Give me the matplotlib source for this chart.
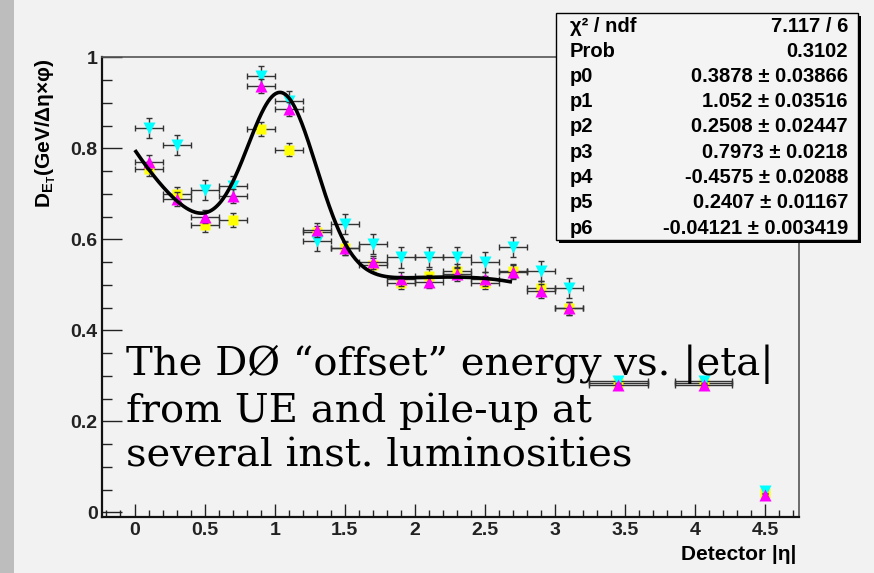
import numpy as np
import matplotlib
matplotlib.use("Agg")
import matplotlib.pyplot as plt
from matplotlib.patches import Rectangle

plt.rcParams['font.family'] = ['Liberation Sans', 'DejaVu Sans']
plt.rcParams['font.weight'] = 'bold'
plt.rcParams['mathtext.fontset'] = 'custom'
plt.rcParams['mathtext.rm'] = 'Liberation Sans:bold'
plt.rcParams['mathtext.it'] = 'Liberation Sans:bold'
plt.rcParams['mathtext.bf'] = 'Liberation Sans:bold'

# bin centres and half widths in |eta|
eta = [0.1, 0.3, 0.5, 0.7, 0.9, 1.1, 1.3, 1.5, 1.7, 1.9, 2.1, 2.3, 2.5, 2.7, 2.9, 3.1, 3.45, 4.06, 4.5]
eta_err = [0.1] * 16 + [0.21, 0.205, 0.0]

# offset energy density for three luminosity samples
lumi_high = [0.845, 0.807, 0.708, 0.717, 0.958, 0.905, 0.597, 0.633, 0.589, 0.560, 0.562, 0.562,
             0.550, 0.582, 0.530, 0.493, 0.288, 0.288, 0.046]
lumi_mid = [0.770, 0.688, 0.650, 0.695, 0.937, 0.886, 0.621, 0.581, 0.549, 0.513, 0.507, 0.523,
            0.513, 0.528, 0.487, 0.448, 0.279, 0.279, 0.037]
lumi_low = [0.754, 0.700, 0.632, 0.643, 0.842, 0.797, 0.615, 0.580, 0.543, 0.505, 0.520, 0.530,
            0.505, 0.530, 0.494, 0.448, 0.284, 0.284, 0.042]
err_high = [0.022] * 16 + [0.006, 0.006, 0.004]
err_mid = [0.015] * 16 + [0.005, 0.005, 0.003]
err_low = [0.015] * 16 + [0.005, 0.005, 0.003]

# gaus + pol3 fit result
fit_names = ['p0', 'p1', 'p2', 'p3', 'p4', 'p5', 'p6']
fit_vals = [0.3878, 1.052, 0.2508, 0.7973, -0.4575, 0.2407, -0.04121]
fit_errs = ['0.03866', '0.03516', '0.02447', '0.0218', '0.02088', '0.01167', '0.003419']
fit_text = ['0.3878', '1.052', '0.2508', '0.7973', '-0.4575', '0.2407', '-0.04121']
chi2_ndf = '7.117 / 6'
prob = '0.3102'
fit_range = (0.01, 2.68)

note_lines = ['The DØ \u201coffset\u201d energy vs. |eta|',
              'from UE and pile-up at',
              'several inst. luminosities']

W, H = 874, 573
bg = '#f2f2f2'


def fx(px):
    return px / W


def fy(py):
    return 1 - py / H


fig = plt.figure(figsize=(W / 100, H / 100), dpi=100, facecolor=bg)
fig.patches.append(Rectangle((0, 0), fx(14), 1, transform=fig.transFigure,
                             facecolor='#bdbdbd', edgecolor='none'))

ax = fig.add_axes([fx(101.7), fy(516.7), fx(799.3 - 101.7), (516.7 - 57.3) / H])
ax.set_facecolor(bg)
ax.set_xlim(-0.234, 4.742)
ax.set_ylim(-0.0097, 1.0)

ax.set_xticks(np.arange(0, 4.51, 0.5))
ax.set_xticklabels(['0', '0.5', '1', '1.5', '2', '2.5', '3', '3.5', '4', '4.5'])
ax.set_xticks(np.arange(-0.2, 4.75, 0.1), minor=True)
ax.set_yticks(np.arange(0, 1.01, 0.2))
ax.set_yticklabels(['0', '0.2', '0.4', '0.6', '0.8', '1'])
ax.set_yticks(np.arange(0, 1.01, 0.05), minor=True)

ax.tick_params(axis='both', which='both', direction='in', top=False, right=False,
               colors='#222222', labelsize=14, width=1.0)
ax.tick_params(axis='x', which='major', length=9.4, pad=4.0)
ax.tick_params(axis='x', which='minor', length=5)
ax.tick_params(axis='y', which='major', length=14.4, pad=3.0)
ax.tick_params(axis='y', which='minor', length=7.2)
for lab in ax.get_xticklabels() + ax.get_yticklabels():
    lab.set_fontweight('bold')

for side in ['left', 'bottom']:
    ax.spines[side].set_color('#111111')
    ax.spines[side].set_linewidth(1.6)
for side in ['top', 'right']:
    ax.spines[side].set_color('#555555')
    ax.spines[side].set_linewidth(1.2)

ebar = dict(ecolor='#333333', elinewidth=1.0, capsize=2.0, capthick=1.0, mec='none', linestyle='none')
ax.errorbar(eta, lumi_low, xerr=eta_err, yerr=err_low, fmt='s', color='#ffff00', ms=7.2, zorder=3, **ebar)
ax.errorbar(eta, lumi_high, xerr=eta_err, yerr=err_high, fmt='v', color='#00ffff', ms=8, zorder=4, **ebar)
ax.errorbar(eta, lumi_mid, xerr=eta_err, yerr=err_mid, fmt='^', color='#ff00ff', ms=8, zorder=5, **ebar)

p = fit_vals
xf = np.linspace(fit_range[0], fit_range[1], 400)
yf = p[0] * np.exp(-0.5 * ((xf - p[1]) / p[2]) ** 2) + p[3] + p[4] * xf + p[5] * xf ** 2 + p[6] * xf ** 3
ax.plot(xf, yf, color='black', lw=2.6, zorder=6)

# axis titles
fig.text(fx(46), fy(58), r'D$_{\mathrm{E_{T}}}$(GeV/Δη×φ)', rotation=90, ha='center', va='top',
         fontsize=15, fontweight='bold')
fig.text(fx(796), fy(545), 'Detector |η|', ha='right', va='top', fontsize=15, fontweight='bold')

# fit statistics box
bx0, by0, bx1, by1 = 556, 13, 858, 240
fig.patches.append(Rectangle((fx(bx0 + 3), fy(by1 + 3)), fx(bx1 - bx0), (by1 - by0) / H,
                             transform=fig.transFigure, facecolor='black', edgecolor='none', zorder=5))
fig.patches.append(Rectangle((fx(bx0), fy(by1)), fx(bx1 - bx0), (by1 - by0) / H,
                             transform=fig.transFigure, facecolor='#f4f4f4', edgecolor='black',
                             lw=1.0, zorder=6))
rows = [('χ² / ndf', chi2_ndf), ('Prob', prob)]
rows += [(n, f'{v} ± {e}') for n, v, e in zip(fit_names, fit_text, fit_errs)]
for i, (name, val) in enumerate(rows):
    yy = fy(26 + 25.25 * i)
    fig.text(fx(570), yy, name, ha='left', va='center', fontsize=14.5, fontweight='bold', zorder=7)
    fig.text(fx(848), yy, val, ha='right', va='center', fontsize=14.5, fontweight='bold', zorder=7)

# annotation
for line, base in zip(note_lines, [375, 421.7, 466.7]):
    fig.text(fx(126), fy(base), line, ha='left', va='baseline', fontsize=28.9,
             fontfamily='DejaVu Serif', fontweight='normal', zorder=8)

fig.savefig('out.png', dpi=100, facecolor=bg)
